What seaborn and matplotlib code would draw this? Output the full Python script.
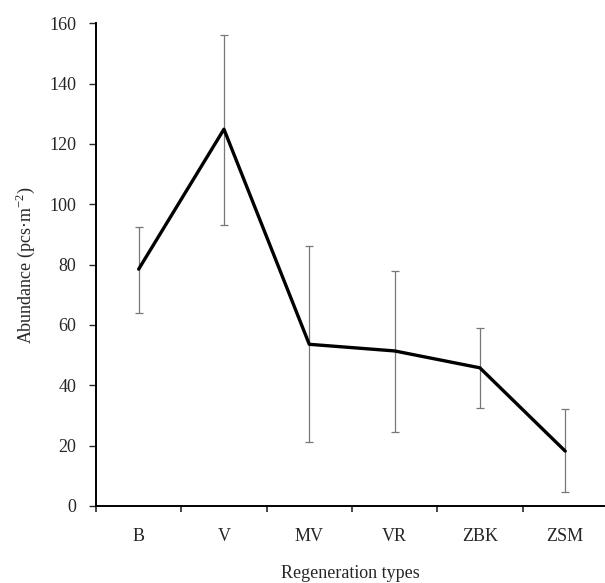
import numpy as np
import pandas as pd
import matplotlib
matplotlib.use("Agg")
import matplotlib.pyplot as plt
import seaborn as sns

# values
regen_types = ["B", "V", "MV", "VR", "ZBK", "ZSM"]
abundance = [78.5, 124.9, 53.6, 51.4, 45.8, 18.2]
err_upper = [92.6, 156.2, 86.1, 78.0, 59.1, 32.0]
err_lower = [63.9, 93.1, 21.1, 24.6, 32.5, 4.5]
y_ticks = [0, 20, 40, 60, 80, 100, 120, 140, 160]

sns.set_style("ticks")
plt.rcParams['font.family'] = ['Liberation Serif', 'DejaVu Serif']
plt.rcParams['mathtext.fontset'] = 'custom'
plt.rcParams['mathtext.rm'] = 'Liberation Serif'

df = pd.DataFrame({"pos": np.arange(len(regen_types)), "abundance": abundance})

fig = plt.figure(figsize=(6.05, 5.83), dpi=100)
ax = fig.add_axes([96 / 605, 77 / 583, 508 / 605, (506 - 23.3) / 583])

mean = np.array(abundance)
yerr = [mean - np.array(err_lower), np.array(err_upper) - mean]
ax.errorbar(df["pos"], mean, yerr=yerr, fmt="none", ecolor="#777777",
            elinewidth=0.9, capsize=3, capthick=0.9, zorder=2)
sns.lineplot(data=df, x="pos", y="abundance", color="black", linewidth=2.4,
             ax=ax, zorder=3)

ax.set_xlim(-0.5, 5.455)
ax.set_ylim(0, 160)
ax.set_yticks(y_ticks)
ax.set_xticks(df["pos"])
ax.set_xticklabels(regen_types)
ax.set_xticks(np.arange(-0.5, 5.5, 1.0), minor=True)
ax.tick_params(axis="x", which="major", length=0, pad=16, labelsize=13)
ax.tick_params(axis="x", which="minor", length=4, width=1.2, direction="out")
ax.tick_params(axis="y", length=5, width=1.0, pad=9, labelsize=13)

sns.despine(ax=ax)
for s in ["left", "bottom"]:
    ax.spines[s].set_linewidth(1.4)
    ax.spines[s].set_color("black")

ax.set_xlabel("Regeneration types", fontsize=13, labelpad=14)
ax.set_ylabel("Abundance (pcs·m$^{\\mathrm{-2}}$)", fontsize=13, labelpad=9)

fig.savefig("out.png", dpi=100)
